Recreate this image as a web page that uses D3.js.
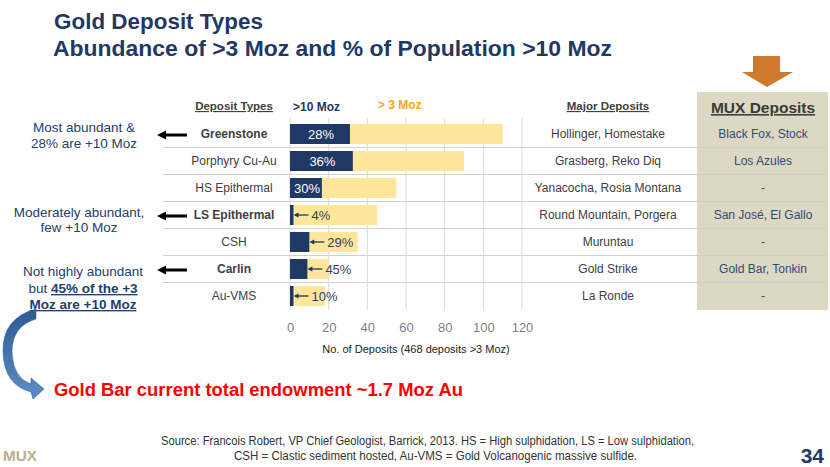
<!DOCTYPE html>
<html>
<head>
<meta charset="utf-8">
<script src="https://cdn.jsdelivr.net/npm/d3@7"></script>
<style>
  html, body { margin: 0; padding: 0; background: #fff; }
  svg { display: block; font-family: "Liberation Sans", Arial, sans-serif; }
</style>
</head>
<body>
<svg id="chart" width="830" height="467"></svg>
<script>
// ---------- data ----------
const categories = ["Greenstone", "Porphyry Cu-Au", "HS Epithermal", "LS Epithermal", "CSH", "Carlin", "Au-VMS"];
const highlighted = ["Greenstone", "LS Epithermal", "Carlin"];
const deposits3Moz = [110, 90, 55, 45, 35, 20, 18];
const deposits10Moz = [31, 32.5, 16.5, 1.8, 10, 9, 1.8];
const pct10Moz = ["28%", "36%", "30%", "4%", "29%", "45%", "10%"];
const majorDeposits = ["Hollinger, Homestake", "Grasberg, Reko Diq", "Yanacocha, Rosia Montana", "Round Mountain, Porgera", "Muruntau", "Gold Strike", "La Ronde"];
const muxDeposits = ["Black Fox, Stock", "Los Azules", "-", "San José, El Gallo", "-", "Gold Bar, Tonkin", "-"];
const xTicks = [0, 20, 40, 60, 80, 100, 120];
const legendLabels = [">10 Moz", "> 3 Moz"];

// ---------- setup ----------
const svg = d3.select("#chart");
const NAVY = "#1f3864";
const GOLD = "#ffe699";
const GRID = "#d9d9d9";
const TXT = "#404040";

const x = d3.scaleLinear().domain([0, 120]).range([290, 522]);
const y = d3.scaleBand().domain(categories).range([120.5, 309.5]).paddingInner(0.26).paddingOuter(0.13);
const rows = categories.map((c, i) => ({
  cat: c, total: deposits3Moz[i], big: deposits10Moz[i], pct: pct10Moz[i],
  major: majorDeposits[i], mux: muxDeposits[i], bold: highlighted.includes(c)
}));

// defs
const defs = svg.append("defs");
const grad = defs.append("linearGradient").attr("id", "blueGrad").attr("x1", 0).attr("y1", 0).attr("x2", 0).attr("y2", 1);
grad.append("stop").attr("offset", "0%").attr("stop-color", "#2c5a92");
grad.append("stop").attr("offset", "100%").attr("stop-color", "#5d8dc8");

// ---------- title ----------
svg.append("text").attr("x", 54).attr("y", 29).attr("font-size", 22.5).attr("font-weight", "bold").attr("fill", NAVY)
  .attr("textLength", 209).attr("lengthAdjust", "spacingAndGlyphs")
  .text("Gold Deposit Types");
svg.append("text").attr("x", 53).attr("y", 56).attr("font-size", 22.5).attr("font-weight", "bold").attr("fill", NAVY)
  .attr("textLength", 559).attr("lengthAdjust", "spacingAndGlyphs")
  .text("Abundance of >3 Moz and % of Population >10 Moz");

// ---------- orange down arrow ----------
svg.append("path").attr("d", "M753,56 L780,56 L780,72 L793,72 L767,87 L742,72 L753,72 Z").attr("fill", "#cd7a2f");

// ---------- MUX column background ----------
svg.append("rect").attr("x", 697).attr("y", 92).attr("width", 131).attr("height", 218).attr("fill", "#dcd8c2");

// ---------- row separators ----------
const seps = categories.slice(1).map(c => y(c) - (y.step() - y.bandwidth()) / 2);
svg.append("g").selectAll("line").data(seps).join("line")
  .attr("x1", 163).attr("x2", 828).attr("y1", d => d).attr("y2", d => d)
  .attr("stroke", "#d0d0d0").attr("stroke-width", 1);

// ---------- grid ----------
svg.append("g").selectAll("line").data(xTicks).join("line")
  .attr("x1", d => x(d)).attr("x2", d => x(d)).attr("y1", 118).attr("y2", 310)
  .attr("stroke", GRID).attr("stroke-width", 1);

// ---------- axis ----------
const axis = svg.append("g").attr("transform", "translate(0,310)")
  .call(d3.axisBottom(x).tickValues(xTicks).tickSize(0).tickPadding(13));
axis.select(".domain").remove();
axis.selectAll("text").attr("font-size", 13).attr("fill", "#7f7f7f").attr("font-family", "Liberation Sans, Arial, sans-serif");
svg.append("text").attr("x", 416).attr("y", 353).attr("text-anchor", "middle").attr("font-size", 11).attr("fill", "#222")
  .text("No. of Deposits (468 deposits >3 Moz)");

// ---------- bars ----------
svg.append("g").selectAll("rect").data(rows).join("rect")
  .attr("x", x(0)).attr("y", d => y(d.cat)).attr("height", y.bandwidth())
  .attr("width", d => x(d.total) - x(0)).attr("fill", GOLD);
svg.append("g").selectAll("rect").data(rows).join("rect")
  .attr("x", x(0)).attr("y", d => y(d.cat)).attr("height", y.bandwidth())
  .attr("width", d => x(d.big) - x(0)).attr("fill", NAVY);

// percentage labels
const inside = rows.filter(d => d.big > 15);
const outside = rows.filter(d => d.big <= 15);
svg.append("g").selectAll("text").data(inside).join("text")
  .attr("x", d => (x(0) + x(d.big)) / 2 + 1).attr("y", d => y(d.cat) + y.bandwidth() / 2 + 4.5)
  .attr("text-anchor", "middle").attr("font-size", 13).attr("fill", "#fff").text(d => d.pct);
const og = svg.append("g");
outside.forEach(d => {
  const xe = x(d.big), cy = y(d.cat) + y.bandwidth() / 2;
  og.append("line").attr("x1", xe + 4).attr("x2", xe + 15).attr("y1", cy).attr("y2", cy)
    .attr("stroke", NAVY).attr("stroke-width", 1.3);
  og.append("path").attr("d", `M${xe},${cy} L${xe + 5},${cy - 2.5} L${xe + 5},${cy + 2.5} Z`).attr("fill", NAVY);
  og.append("text").attr("x", xe + 18).attr("y", cy + 4.5).attr("font-size", 13).attr("fill", "#2f3f66").text(d.pct);
});

// ---------- legend ----------
svg.append("text").attr("x", 293).attr("y", 111).attr("font-size", 12).attr("font-weight", "bold").attr("fill", NAVY).text(legendLabels[0]);
svg.append("text").attr("x", 378).attr("y", 109).attr("font-size", 12).attr("font-weight", "bold").attr("fill", "#f5a623").text(legendLabels[1]);

// ---------- headers ----------
svg.append("text").attr("x", 234).attr("y", 110).attr("text-anchor", "middle").attr("font-size", 11.5).attr("font-weight", "bold")
  .attr("fill", TXT).attr("text-decoration", "underline").text("Deposit Types");
svg.append("text").attr("x", 608).attr("y", 110).attr("text-anchor", "middle").attr("font-size", 11.5).attr("font-weight", "bold")
  .attr("fill", TXT).attr("text-decoration", "underline").text("Major Deposits");
svg.append("text").attr("x", 763).attr("y", 113).attr("text-anchor", "middle").attr("font-size", 15.5).attr("font-weight", "bold")
  .attr("fill", "#3a3a3a").attr("text-decoration", "underline").text("MUX Deposits");

// ---------- row texts ----------
const cyOf = d => y(d.cat) + y.bandwidth() / 2 + 4.3;
svg.append("g").selectAll("text").data(rows).join("text")
  .attr("x", 234).attr("y", cyOf).attr("text-anchor", "middle").attr("font-size", 12)
  .attr("font-weight", d => d.bold ? "bold" : "normal").attr("fill", TXT).text(d => d.cat);
svg.append("g").selectAll("text").data(rows).join("text")
  .attr("x", 608).attr("y", cyOf).attr("text-anchor", "middle").attr("font-size", 12)
  .attr("fill", TXT).text(d => d.major);
svg.append("g").selectAll("text").data(rows).join("text")
  .attr("x", 763).attr("y", cyOf).attr("text-anchor", "middle").attr("font-size", 12)
  .attr("fill", "#2f4a7c").text(d => d.mux);

// ---------- black arrows ----------
const arrowRows = rows.filter(d => d.bold);
svg.append("g").selectAll("path").data(arrowRows).join("path")
  .attr("d", d => {
    const cy = y(d.cat) + y.bandwidth() / 2 + 1;
    return `M157,${cy} L166,${cy - 4.5} L166,${cy - 1.5} L187,${cy - 1.5} L187,${cy + 1.5} L166,${cy + 1.5} L166,${cy + 4.5} Z`;
  })
  .attr("fill", "#000");

// ---------- left annotations ----------
const ann = svg.append("g").attr("font-size", 13.5).attr("fill", "#23406e").attr("text-anchor", "middle");
ann.append("text").attr("x", 84).attr("y", 132).text("Most abundant &");
ann.append("text").attr("x", 84).attr("y", 148).text("28% are +10 Moz");
ann.append("text").attr("x", 79).attr("y", 217).text("Moderately abundant,");
ann.append("text").attr("x", 79).attr("y", 232).text("few +10 Moz");
ann.append("text").attr("x", 83).attr("y", 276).text("Not highly abundant");
const l2 = ann.append("text").attr("x", 83).attr("y", 293);
l2.append("tspan").text("but ");
l2.append("tspan").attr("font-weight", "bold").attr("text-decoration", "underline").text("45% of the +3");
ann.append("text").attr("x", 83).attr("y", 309).attr("font-weight", "bold").attr("text-decoration", "underline").text("Moz are +10 Moz");

// ---------- curved blue arrow ----------
svg.append("path")
  .attr("d", "M36,309 Q2,318 3,352 Q4,385 31,392 L33,399 L44,389 L31,378 L31,384 Q13,378 12,352 Q12,326 36,319 Z")
  .attr("fill", "url(#blueGrad)").attr("stroke", "#2c5a92").attr("stroke-width", 0.5);

svg.append("text").attr("x", 54).attr("y", 396).attr("font-size", 18).attr("font-weight", "bold").attr("fill", "#ff0000")
  .attr("textLength", 409).attr("lengthAdjust", "spacingAndGlyphs")
  .text("Gold Bar current total endowment ~1.7 Moz Au");

// ---------- footer ----------
svg.append("text").attr("x", 161).attr("y", 445).attr("font-size", 12).attr("fill", "#333")
  .attr("textLength", 533).attr("lengthAdjust", "spacingAndGlyphs")
  .text("Source: Francois Robert, VP Chief Geologist, Barrick, 2013. HS = High sulphidation, LS = Low sulphidation,");
svg.append("text").attr("x", 234).attr("y", 460).attr("font-size", 12).attr("fill", "#333")
  .attr("textLength", 403).attr("lengthAdjust", "spacingAndGlyphs")
  .text("CSH = Clastic sediment hosted, Au-VMS = Gold Volcanogenic massive sulfide.");
svg.append("text").attr("x", 3).attr("y", 461).attr("font-size", 15).attr("font-weight", "bold").attr("fill", "#bdb089")
  .attr("textLength", 34).attr("lengthAdjust", "spacingAndGlyphs").text("MUX");
svg.append("text").attr("x", 824).attr("y", 463).attr("text-anchor", "end").attr("font-size", 21).attr("font-weight", "bold")
  .attr("fill", NAVY).text("34");
</script>
</body>
</html>
